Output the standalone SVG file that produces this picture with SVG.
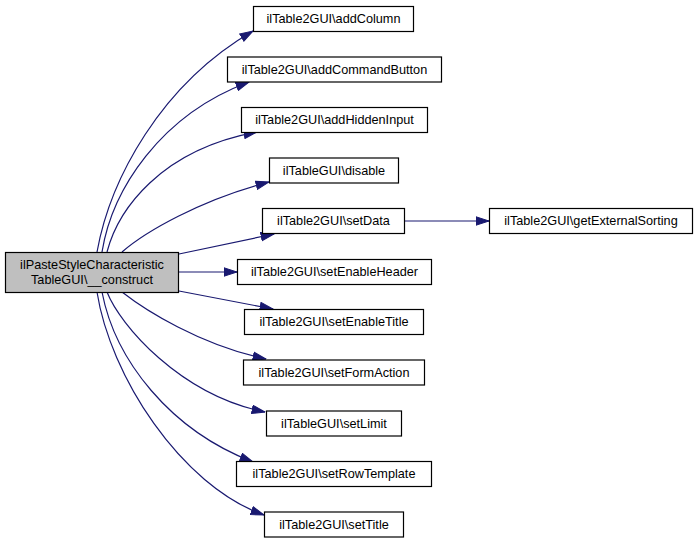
<svg xmlns="http://www.w3.org/2000/svg" width="697" height="544" viewBox="0 0 697 544">
<style>
.n rect{fill:#ffffff;stroke:#000000;stroke-width:1.2}
.n.root rect{fill:#bfbfbf}
.n text{font-family:"Liberation Sans",Arial,Helvetica,sans-serif;font-size:12.7px;fill:#000000;text-anchor:middle}
.e path{fill:none;stroke:#191970;stroke-width:1.2;marker-end:url(#arr)}
</style>
<defs>
<marker id="arr" markerUnits="userSpaceOnUse" viewBox="0 0 14 10" markerWidth="14" markerHeight="10" refX="13.5" refY="5" orient="auto">
<path d="M0.5,0.8 L13.5,5 L0.5,9.2 z" fill="#191970" stroke="#191970" stroke-width="1"/>
</marker>
</defs>
<rect width="697" height="544" fill="#ffffff"/>
<g id="edges" class="e">
<path d="M97,252 C110,180 160,85 253,31"/>
<path d="M102,252 C112,190 160,115 249,82"/>
<path d="M107,252 C118,210 160,150 257,132"/>
<path d="M122,252 C145,232 200,200 269,182"/>
<path d="M179,254 L274,234"/>
<path d="M179,272 L237,272"/>
<path d="M179,291 L273,309"/>
<path d="M122,292 C145,310 200,345 266,359"/>
<path d="M107,292 C120,325 180,395 265,412"/>
<path d="M102,292 C115,360 170,430 253,462"/>
<path d="M97,292 C110,375 180,485 264,515"/>
<path d="M404,221 L489,221"/>
</g>
<g id="node-root" class="n root">
<rect x="5.5" y="252.5" width="173" height="40"/>
<text x="92" y="268.5">ilPasteStyleCharacteristic</text>
<text x="92" y="283.5">TableGUI\__construct</text>
</g>
<g id="node-addColumn" class="n">
<rect x="253.5" y="6.5" width="160" height="25"/>
<text x="333.5" y="23.3">ilTable2GUI\addColumn</text>
</g>
<g id="node-addCommandButton" class="n">
<rect x="227.5" y="57" width="214" height="25"/>
<text x="334.5" y="73.8">ilTable2GUI\addCommandButton</text>
</g>
<g id="node-addHiddenInput" class="n">
<rect x="241.5" y="107.5" width="186" height="25"/>
<text x="334.5" y="124.3">ilTable2GUI\addHiddenInput</text>
</g>
<g id="node-disable" class="n">
<rect x="269.5" y="158" width="129" height="25"/>
<text x="334" y="174.8">ilTableGUI\disable</text>
</g>
<g id="node-setData" class="n">
<rect x="262.5" y="208.5" width="142" height="25"/>
<text x="333.5" y="225.3">ilTable2GUI\setData</text>
</g>
<g id="node-getExternalSorting" class="n">
<rect x="489.5" y="208.5" width="203" height="25"/>
<text x="591" y="225.3">ilTable2GUI\getExternalSorting</text>
</g>
<g id="node-setEnableHeader" class="n">
<rect x="237.5" y="259.5" width="194" height="25"/>
<text x="334.5" y="276.3">ilTable2GUI\setEnableHeader</text>
</g>
<g id="node-setEnableTitle" class="n">
<rect x="244.5" y="309.5" width="179" height="25"/>
<text x="334" y="326.3">ilTable2GUI\setEnableTitle</text>
</g>
<g id="node-setFormAction" class="n">
<rect x="243.5" y="360" width="181" height="25"/>
<text x="334" y="376.8">ilTable2GUI\setFormAction</text>
</g>
<g id="node-setLimit" class="n">
<rect x="266.5" y="411" width="135" height="25"/>
<text x="334" y="427.8">ilTableGUI\setLimit</text>
</g>
<g id="node-setRowTemplate" class="n">
<rect x="236.5" y="461.5" width="195" height="25"/>
<text x="334" y="478.3">ilTable2GUI\setRowTemplate</text>
</g>
<g id="node-setTitle" class="n">
<rect x="264.5" y="512" width="139" height="25"/>
<text x="334" y="528.8">ilTable2GUI\setTitle</text>
</g>
</svg>
